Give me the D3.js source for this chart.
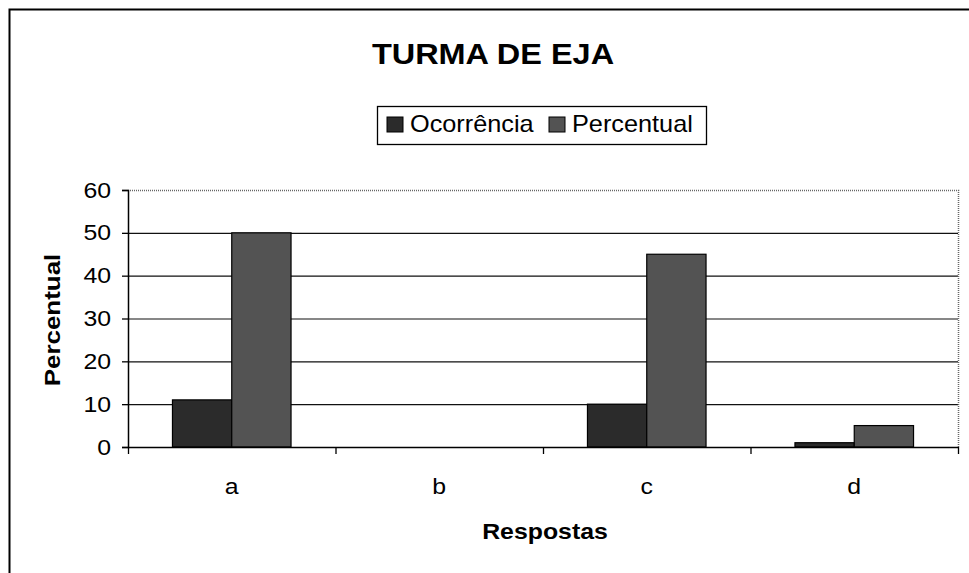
<!DOCTYPE html>
<html>
<head>
<meta charset="utf-8">
<script src="https://cdn.jsdelivr.net/npm/d3@7"></script>
<style>
  body { margin: 0; background: #fff; }
  svg text { font-family: "Liberation Sans", Arial, sans-serif; fill: #000; }
</style>
</head>
<body>
<div id="chart"></div>
<script>
// chart values
const categories = ["a", "b", "c", "d"];
const seriesNames = ["Ocorrência", "Percentual"];
const ocorrencia = [11, 0, 10, 1];
const percentual = [50, 0, 45, 5];
const yTicks = [0, 10, 20, 30, 40, 50, 60];

const width = 969, height = 573;
const plot = {left: 128, right: 958, top: 190, bottom: 447};
const colors = ["#2b2b2b", "#535353"];
const stretch = 1.13; // the scanned text is a bit wider than Arial

const svg = d3.select("#chart").append("svg")
  .attr("width", width)
  .attr("height", height);

// helper for stretched text labels
function label(x, y, str, size, opts) {
  opts = opts || {};
  const sx = opts.sx || stretch;
  let t = `translate(${x},${y})`;
  if (opts.rotate) t += ` rotate(${opts.rotate})`;
  t += ` scale(${sx},1)`;
  return svg.append("text")
    .attr("transform", t)
    .attr("text-anchor", opts.anchor || "middle")
    .attr("font-size", size)
    .attr("font-weight", opts.bold ? "bold" : "normal")
    .text(str);
}

// outer frame of the chart (runs off the right/bottom)
svg.append("rect")
  .attr("x", 9.5).attr("y", 9.5)
  .attr("width", width + 10).attr("height", height + 10)
  .attr("fill", "none")
  .attr("stroke", "#000")
  .attr("stroke-width", 2);

const x0 = d3.scaleBand()
  .domain(categories)
  .range([plot.left, plot.right]);

// Excel style 150% gap: each bar = band / 3.5
const x1 = d3.scaleBand()
  .domain(seriesNames)
  .range([0, x0.bandwidth()])
  .paddingOuter(0.75)
  .paddingInner(0);

const y = d3.scaleLinear()
  .domain([0, 60])
  .range([plot.bottom, plot.top]);

// gridlines
svg.append("g")
  .selectAll("line")
  .data(yTicks.filter(d => d > 0 && d < 60))
  .enter()
  .append("line")
  .attr("x1", plot.left).attr("x2", plot.right)
  .attr("y1", d => y(d) + 0.5).attr("y2", d => y(d) + 0.5)
  .attr("stroke", "#111")
  .attr("stroke-width", 1.1);

// plot area border (top / right, grey dotted look)
svg.append("path")
  .attr("d", `M${plot.left},${plot.top + 0.5}H${plot.right + 0.5}V${plot.bottom}`)
  .attr("fill", "none")
  .attr("stroke", "#666")
  .attr("stroke-width", 1.5)
  .attr("stroke-dasharray", "1,1");

// bars
const rows = categories.map((c, i) => ({cat: c, vals: [ocorrencia[i], percentual[i]]}));

const groups = svg.append("g")
  .selectAll("g")
  .data(rows)
  .enter()
  .append("g")
  .attr("transform", d => `translate(${x0(d.cat)},0)`);

groups.selectAll("rect")
  .data(d => d.vals.map((v, j) => ({name: seriesNames[j], value: v, j: j})))
  .enter()
  .filter(d => d.value > 0)
  .append("rect")
  .attr("x", d => x1(d.name))
  .attr("y", d => y(d.value))
  .attr("width", x1.bandwidth())
  .attr("height", d => plot.bottom - y(d.value))
  .attr("fill", d => colors[d.j])
  .attr("stroke", "#000")
  .attr("stroke-width", 1.2);

// y axis
const yAxis = svg.append("g")
  .attr("transform", `translate(${plot.left},0)`)
  .call(d3.axisLeft(y).tickValues(yTicks).tickSize(6).tickPadding(9));
yAxis.select(".domain").attr("stroke", "#000").attr("stroke-width", 1.5);
yAxis.selectAll(".tick line").attr("stroke", "#000").attr("stroke-width", 1.3);
yAxis.selectAll("text")
  .attr("font-size", 22)
  .attr("transform", `scale(${stretch},1)`)
  .style("font-family", "'Liberation Sans', Arial, sans-serif");

// x axis
const xAxis = svg.append("g")
  .attr("transform", `translate(0,${plot.bottom})`)
  .call(d3.axisBottom(x0).tickSize(0).tickPadding(28));
xAxis.select(".domain").attr("stroke", "#000").attr("stroke-width", 1.5);
xAxis.selectAll("text").remove();
categories.forEach(c => label(x0(c) + x0.bandwidth() / 2, 494, c, 22));

// tick marks between categories
const bounds = categories.map(c => x0(c)).concat([plot.right]);
svg.append("g")
  .selectAll("line")
  .data(bounds)
  .enter()
  .append("line")
  .attr("x1", d => d + 0.5).attr("x2", d => d + 0.5)
  .attr("y1", plot.bottom).attr("y2", plot.bottom + 7)
  .attr("stroke", "#000")
  .attr("stroke-width", 1.3);

// title
label(493, 64, "TURMA DE EJA", 29, {bold: true, sx: 1.12});

// axis titles
label(60, 320, "Percentual", 22, {bold: true, rotate: -90, sx: 1.18});
label(545, 539, "Respostas", 22, {bold: true});

// legend
svg.append("rect")
  .attr("x", 377.5).attr("y", 106.5)
  .attr("width", 329).attr("height", 38)
  .attr("fill", "#fff")
  .attr("stroke", "#000")
  .attr("stroke-width", 1.3);

const legendX = [387, 549];
seriesNames.forEach((name, i) => {
  svg.append("rect")
    .attr("x", legendX[i]).attr("y", 117)
    .attr("width", 16).attr("height", 15)
    .attr("fill", colors[i])
    .attr("stroke", "#000");
  label(legendX[i] + 23, 132, name, 23, {anchor: "start", sx: 1.1});
});
</script>
</body>
</html>
